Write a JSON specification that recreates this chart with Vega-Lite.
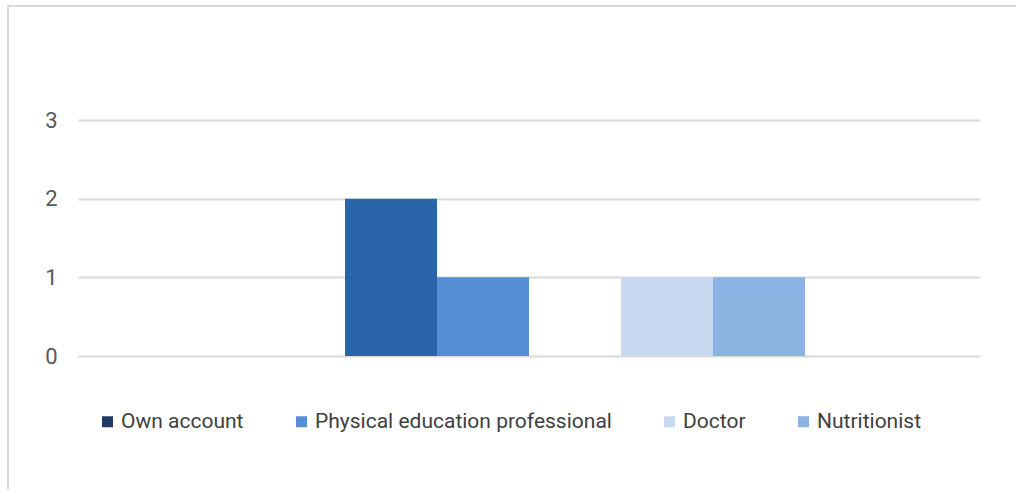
{
  "$schema": "https://vega.github.io/schema/vega-lite/v6.json",
  "autosize": {"type": "none"},
  "padding": {"left": 8, "top": 6, "right": 0, "bottom": 0},
  "width": 1012,
  "height": 490,
  "background": "white",
  "config": {
    "font": "Roboto",
    "view": {"stroke": "#d9d9d9", "strokeWidth": 2, "fill": "white"}
  },
  "data": {
    "values": [
      {"slot": 3, "source": "Own account", "count": 2},
      {"slot": 4, "source": "Physical education professional", "count": 1},
      {"slot": 6, "source": "Doctor", "count": 1},
      {"slot": 7, "source": "Nutritionist", "count": 1}
    ]
  },
  "mark": {"type": "bar"},
  "encoding": {
    "x": {
      "field": "slot",
      "type": "ordinal",
      "scale": {"domain": [1, 2, 3, 4, 5, 6, 7, 8], "range": [70, 972], "paddingInner": 0, "paddingOuter": 0.902},
      "axis": null
    },
    "y": {
      "field": "count",
      "type": "quantitative",
      "scale": {"domain": [0, 3], "range": [350, 114], "nice": false, "zero": true},
      "axis": {
        "values": [0, 1, 2, 3],
        "title": null,
        "grid": true,
        "gridColor": "#d9d9d9",
        "gridWidth": 1.8,
        "domain": false,
        "ticks": false,
        "tickSize": 0,
        "labelPadding": 0,
        "offset": -49,
        "labelFont": "Roboto",
        "labelFontSize": 22,
        "labelColor": "#595959"
      }
    },
    "fill": {
      "condition": {"test": "datum.source === 'Own account'", "value": "#2a64a9"},
      "field": "source",
      "type": "nominal",
      "scale": {
        "domain": ["Own account", "Physical education professional", "Doctor", "Nutritionist"],
        "range": ["#1f3864", "#558ed5", "#c6d9f0", "#8db3e2"]
      },
      "legend": {
        "title": null,
        "orient": "none",
        "direction": "horizontal",
        "legendX": 89,
        "legendY": 405,
        "columnPadding": 47,
        "symbolType": "square",
        "symbolSize": 121,
        "symbolStrokeWidth": 0,
        "symbolOpacity": 1,
        "labelOffset": 3,
        "labelFont": "Roboto",
        "labelFontSize": 21,
        "labelColor": "#404040",
        "labelLimit": 0
      }
    }
  }
}
